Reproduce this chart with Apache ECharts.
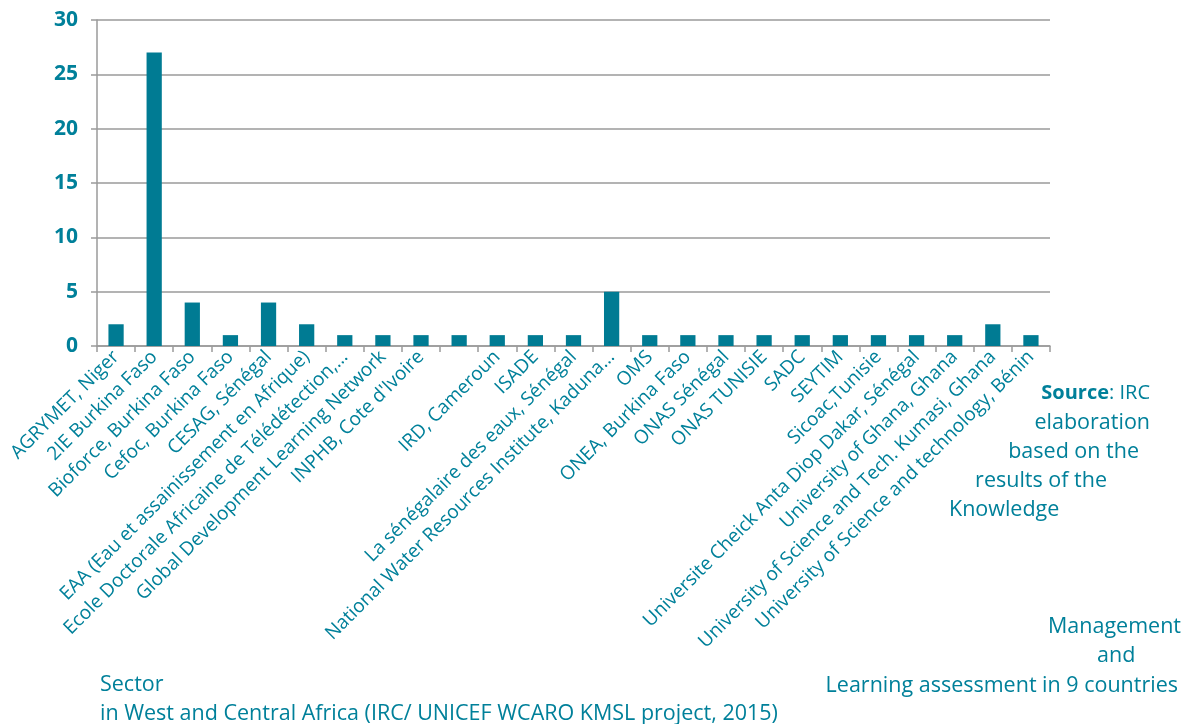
<!DOCTYPE html>
<html>
<head>
<meta charset="utf-8">
<script src="https://cdn.jsdelivr.net/npm/echarts@6/dist/echarts.min.js"></script>
<style>
html,body{margin:0;padding:0;background:#fff;}
#chart{width:1190px;height:724px;}
</style>
</head>
<body>
<div id="chart"></div>
<script>
const categories = [
  "AGRYMET, Niger",
  "2IE Burkina Faso",
  "Bioforce, Burkina Faso",
  "Cefoc, Burkina Faso",
  "CESAG, Sénégal",
  "EAA (Eau et assainissement en Afrique)",
  "Ecole Doctorale Africaine de Télédétection,…",
  "Global Development Learning Network",
  "INPHB, Cote d'Ivoire",
  "",
  "IRD, Cameroun",
  "ISADE",
  "La sénégalaire des eaux, Sénégal",
  "National Water Resources Institute, Kaduna…",
  "OMS",
  "ONEA, Burkina Faso",
  "ONAS Sénégal",
  "ONAS TUNISIE",
  "SADC",
  "SEYTIM",
  "Sicoac,Tunisie",
  "Universite Cheick Anta Diop Dakar, Sénégal",
  "University of Ghana, Ghana",
  "University of Science and Tech. Kumasi, Ghana",
  "University of Science and technology, Bénin"
];
const values = [2, 27, 4, 1, 4, 2, 1, 1, 1, 1, 1, 1, 1, 5, 1, 1, 1, 1, 1, 1, 1, 1, 1, 2, 1];
const yTicks = { min: 0, max: 30, interval: 5 };

const TEAL = '#00809a';
const BAR = '#007b93';
const GRID = '#9a9a9a';
const FONT = '"Open Sans", "Noto Sans", sans-serif';
const FS = 21.5;

function txt(opts, text, rich, size) {
  const o = Object.assign({ type: 'text' }, opts);
  o.style = { text: text, fill: TEAL, font: (size || FS) + 'px ' + FONT, verticalAlign: 'middle' };
  if (rich) o.style.rich = rich;
  return o;
}

const chart = echarts.init(document.getElementById('chart'));
chart.setOption({
  animation: false,
  backgroundColor: '#fff',
  grid: { left: 97, right: 140, top: 20, bottom: 378, containLabel: false },
  xAxis: {
    type: 'category',
    data: categories,
    boundaryGap: true,
    axisLine: { show: true, lineStyle: { color: GRID, width: 1.5 } },
    axisTick: { show: true, alignWithLabel: false, length: 6, lineStyle: { color: GRID, width: 1.5 } },
    axisLabel: {
      interval: 0, rotate: 45, color: TEAL, fontFamily: FONT, fontSize: 19, margin: 8
    },
    splitLine: { show: false }
  },
  yAxis: {
    type: 'value',
    min: yTicks.min, max: yTicks.max, interval: yTicks.interval,
    axisLine: { show: true, lineStyle: { color: GRID, width: 1.5 } },
    axisTick: { show: true, length: 6, lineStyle: { color: GRID, width: 1.5 } },
    axisLabel: { color: TEAL, fontFamily: FONT, fontSize: 21, fontWeight: 'bold', margin: 19 },
    splitLine: { show: true, lineStyle: { color: GRID, width: 1.5 } }
  },
  series: [{
    type: 'bar',
    data: values,
    barWidth: '40%',
    itemStyle: { color: BAR }
  }],
  graphic: [
    txt({ right: 40, top: 383 }, '{b|Source}{n|: IRC}', {
      b: { fontWeight: 'bold', fontSize: 20, fontFamily: FONT, fill: TEAL },
      n: { fontWeight: 'normal', fontSize: 20, fontFamily: FONT, fill: TEAL }
    }, 20),
    txt({ right: 40, top: 412 }, 'elaboration'),
    txt({ right: 51, top: 441 }, 'based on the'),
    txt({ right: 83, top: 470 }, 'results of the'),
    txt({ left: 949, top: 499 }, 'Knowledge'),
    txt({ right: 9, top: 616 }, 'Management'),
    txt({ left: 1097, top: 645 }, 'and'),
    txt({ right: 12, top: 675 }, 'Learning assessment in 9 countries'),
    txt({ left: 100, top: 674 }, 'Sector'),
    txt({ left: 100, top: 703 }, 'in West and Central Africa (IRC/ UNICEF WCARO KMSL project, 2015)')
  ]
});
</script>
</body>
</html>
